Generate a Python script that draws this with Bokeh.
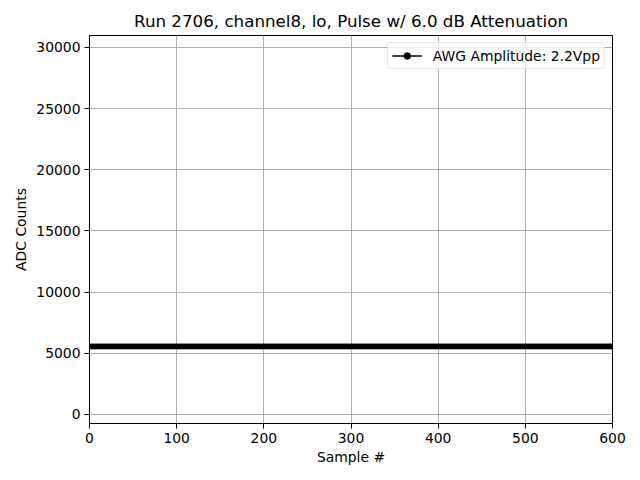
from bokeh.plotting import figure
from bokeh.models import Range1d, FixedTicker, Legend, LegendItem
from bokeh.embed import file_html
from bokeh.resources import INLINE

# Data
samples = list(range(0, 601))
adc_level = 5560  # constant ADC baseline
adc_counts = [adc_level] * len(samples)

x_ticks = [0, 100, 200, 300, 400, 500, 600]
y_ticks = [0, 5000, 10000, 15000, 20000, 25000, 30000]

title_text = "Run 2706, channel8, lo, Pulse w/ 6.0 dB Attenuation"
legend_text = "AWG Amplitude: 2.2Vpp"

FONT = "DejaVu Sans"
FS = "13.9px"

p = figure(width=640, height=480, output_backend="svg", toolbar_location=None,
           x_range=Range1d(0, 600), y_range=Range1d(-740, 30980),
           min_border_left=89, min_border_right=28, min_border_top=35, min_border_bottom=57)

p.title.text = title_text
p.title.align = "center"
p.title.text_font = FONT
p.title.text_font_size = "16.7px"
p.title.text_font_style = "normal"
p.title.text_color = "black"

p.outline_line_color = "black"
p.outline_line_width = 1
p.background_fill_color = "white"
p.border_fill_color = "white"

for ax in (p.xaxis[0], p.yaxis[0]):
    ax.axis_line_color = "black"
    ax.major_tick_line_color = "black"
    ax.major_tick_out = 5
    ax.major_tick_in = 0
    ax.minor_tick_out = 0
    ax.minor_tick_in = 0
    ax.major_label_text_font = FONT
    ax.major_label_text_font_size = FS
    ax.major_label_text_color = "black"
    ax.axis_label_text_font = FONT
    ax.axis_label_text_font_size = FS
    ax.axis_label_text_font_style = "normal"
    ax.axis_label_text_color = "black"

p.xaxis.ticker = FixedTicker(ticks=x_ticks)
p.yaxis.ticker = FixedTicker(ticks=y_ticks)
p.xaxis.axis_label = "Sample #"
p.yaxis.axis_label = "ADC Counts"
p.xaxis.major_label_standoff = 4
p.yaxis.major_label_standoff = 4
p.xaxis.axis_label_standoff = 3
p.yaxis.axis_label_standoff = 4

p.grid.grid_line_color = "#b0b0b0"
p.grid.grid_line_width = 1

ln = p.line(samples, adc_counts, line_color="black", line_width=1.5)
sc = p.scatter(samples, adc_counts, marker="circle", size=5, fill_color="black", line_color="black",
               line_width=0.5)

legend = Legend(items=[LegendItem(label=legend_text, renderers=[ln, sc])],
                location="top_right")
legend.label_text_font = FONT
legend.label_text_font_size = FS
legend.label_text_color = "black"
legend.border_line_color = "#d0d0d0"
legend.border_line_width = 1
legend.border_radius = 3
legend.background_fill_alpha = 0.8
legend.glyph_width = 30
legend.glyph_height = 17
legend.label_height = 17
legend.label_standoff = 11
legend.padding = 4
legend.margin = 7
legend.spacing = 0
p.add_layout(legend)

open("out.html", "w").write(file_html(p, INLINE))
